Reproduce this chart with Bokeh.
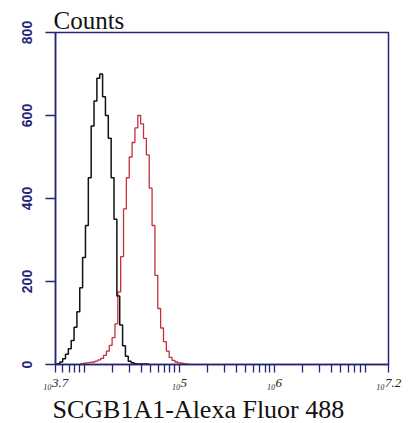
import numpy as np
from bokeh.plotting import figure
from bokeh.models import FixedTicker, Range1d, Title
from bokeh.embed import file_html
from bokeh.resources import INLINE

# ---- data ----
bin_width = 0.03                      # decades per histogram bin
black_start = 3.715                   # log10 of first black bin edge
black_counts = [2, 6, 14, 25, 38, 58, 90, 127, 185, 258, 335, 450, 575, 635,
                690, 700, 645, 600, 545, 450, 350, 165, 95, 45, 20, 8, 4, 2, 1,
                1, 1, 1]
red_start = 3.965                     # log10 of first red bin edge
red_counts = [2, 3, 4, 5, 6, 8, 11, 15, 22, 32, 46, 65, 98, 175, 260, 375, 450,
              500, 535, 570, 600, 580, 545, 505, 425, 335, 215, 135, 88, 55, 32,
              17, 10, 6, 4, 3, 2, 1]

x_min_exp, x_max_exp = 3.7, 7.2
x_label_exponents = [3.7, 5, 6, 7.2]
x_label_texts = ["\u2081\u20803.7", "\u2081\u20805", "\u2081\u20806", "\u2081\u20807.2"]
x_minor_multipliers = [1, 2, 3, 4, 5, 6, 7, 8, 9]
x_decades = [3, 4, 5, 6]
y_ticks = [0, 200, 400, 600, 800]
y_label = "Counts"
x_title = "SCGB1A1-Alexa Fluor 488"

NAVY = "#25257a"
SERIF = "Liberation Serif"


def stairs(start, counts):
    edges = 10 ** (start + bin_width * np.arange(len(counts) + 1))
    xs = np.repeat(edges, 2)
    ys = np.concatenate([[0], np.repeat(counts, 2), [0]])
    return xs, ys


p = figure(width=409, height=423, x_axis_type="log",
           x_range=Range1d(10 ** x_min_exp, 10 ** x_max_exp),
           y_range=Range1d(0, 800),
           output_backend="svg", toolbar_location=None,
           min_border_left=55, min_border_right=21,
           min_border_top=32, min_border_bottom=10)
p.grid.visible = False
p.background_fill_color = "white"
p.border_fill_color = "white"
p.outline_line_color = NAVY
p.outline_line_width = 1.5

# title "Counts" above the frame, left aligned
p.title.text = y_label
p.title.align = "left"
p.title.offset = -2
p.title.standoff = -3
p.title.text_font = SERIF
p.title.text_font_size = "25px"
p.title.text_font_style = "normal"
p.title.text_color = "#111111"

# histograms
rx, ry = stairs(red_start, red_counts)
p.line(rx, ry, line_color="#c4303c", line_width=1.3)
bx, by = stairs(black_start, black_counts)
p.line(bx, by, line_color="#111111", line_width=1.5)

# x axis
xt = [m * 10.0 ** k for k in x_decades for m in x_minor_multipliers
      if 10 ** x_min_exp * 1.001 < m * 10.0 ** k < 10 ** x_max_exp]
xt = [10 ** x_min_exp] + xt + [10 ** x_max_exp]
overrides = {t: "" for t in xt}
for e, t in zip(x_label_exponents, x_label_texts):
    key = min(xt, key=lambda v: abs(np.log10(v) - e))
    overrides[key] = t
xa = p.xaxis[0]
xa.ticker = FixedTicker(ticks=xt, minor_ticks=[])
xa.major_label_overrides = overrides
xa.axis_line_color = NAVY
xa.axis_line_width = 1.5
xa.major_tick_line_color = NAVY
xa.major_tick_line_width = 1.3
xa.major_tick_out = 8
xa.major_tick_in = 0
xa.minor_tick_line_color = None
xa.major_label_standoff = 2
xa.major_label_text_font = SERIF
xa.major_label_text_font_size = "13px"
xa.major_label_text_font_style = "italic"
xa.major_label_text_color = "#222222"

# y axis
ya = p.yaxis[0]
ya.ticker = FixedTicker(ticks=y_ticks, minor_ticks=[])
ya.axis_line_color = NAVY
ya.axis_line_width = 1.5
ya.major_tick_line_color = NAVY
ya.major_tick_line_width = 1.3
ya.major_tick_out = 10
ya.major_tick_in = 0
ya.minor_tick_line_color = None
ya.major_label_orientation = "vertical"
ya.major_label_standoff = 14
ya.major_label_text_color = NAVY
ya.major_label_text_font = "Liberation Sans"
ya.major_label_text_font_size = "14px"
ya.major_label_text_font_style = "bold"

# x-axis title below
p.add_layout(Title(text=x_title, align="left", offset=-3, standoff=0,
                   text_font=SERIF, text_font_size="26px",
                   text_font_style="normal", text_color="#111111"), "below")

open("out.html", "w").write(file_html(p, INLINE))
